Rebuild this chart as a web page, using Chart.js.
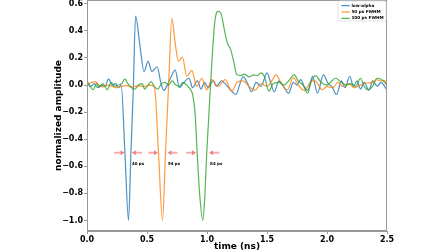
<!DOCTYPE html>
<html>
<head>
<meta charset="utf-8">
<style>
  html, body { margin: 0; padding: 0; background: #fff; }
</style>
<script src="https://cdn.jsdelivr.net/npm/chart.js@4.4.0/dist/chart.umd.min.js"></script>
</head>
<body>
<canvas id="myChart" width="448" height="252"></canvas>
<script>
// time (ns) / amplitude for each trace
const blueTime = [0.00,0.03,0.06,0.09,0.12,0.15,0.18,0.21,0.24,0.26,0.285,0.316,0.346,0.366,0.385,0.405,0.44,0.475,0.51,0.54,0.585,0.615,0.64,0.67,0.70,0.735,0.77,0.80,0.85,0.88,0.92,0.95,0.98,1.01,1.05,1.08,1.12,1.15,1.20,1.24,1.30,1.34,1.37,1.41,1.45,1.50,1.53,1.56,1.60,1.63,1.68,1.72,1.75,1.78,1.81,1.84,1.88,1.92,1.97,2.01,2.04,2.08,2.12,2.15,2.19,2.22,2.25,2.28,2.31,2.35,2.38,2.42,2.45,2.48,2.50];
const blueAmp = [0.02,-0.01,0.01,-0.02,0.00,-0.01,0.045,0.00,0.01,-0.02,0.00,-0.5,-1.0,-0.5,-0.05,0.51,0.30,0.10,0.175,0.10,0.135,0.02,-0.04,0.00,0.06,0.11,-0.02,0.01,0.05,-0.02,0.03,-0.03,0.02,-0.02,0.03,-0.01,0.03,0.01,-0.04,-0.07,0.06,0.01,-0.05,0.02,-0.01,0.09,0.02,-0.05,0.03,0.00,-0.06,0.02,0.00,0.04,-0.01,-0.04,0.065,-0.06,0.075,0.01,-0.01,-0.07,0.03,-0.02,0.065,-0.01,0.03,-0.03,0.02,-0.04,0.03,-0.01,0.02,-0.01,-0.04];

const orangeTime = [0.00,0.04,0.07,0.10,0.13,0.17,0.21,0.25,0.29,0.33,0.38,0.43,0.48,0.52,0.55,0.565,0.596,0.629,0.654,0.68,0.707,0.735,0.762,0.795,0.832,0.873,0.915,0.957,0.998,1.04,1.095,1.15,1.206,1.25,1.30,1.35,1.40,1.45,1.50,1.54,1.575,1.62,1.67,1.72,1.76,1.81,1.86,1.90,1.96,2.00,2.05,2.09,2.13,2.18,2.23,2.28,2.33,2.38,2.415,2.45,2.48,2.50];
const orangeAmp = [0.00,0.02,0.025,0.00,-0.015,0.00,-0.01,-0.02,-0.01,-0.005,-0.015,-0.005,-0.01,0.00,-0.005,-0.03,-0.5,-1.0,-0.5,0.00,0.495,0.31,0.175,0.207,0.064,0.108,-0.01,0.05,-0.035,0.04,-0.01,0.04,-0.047,0.02,0.03,-0.01,-0.04,0.01,-0.01,0.03,0.075,0.01,-0.035,0.055,0.00,-0.04,0.02,0.03,-0.035,-0.01,-0.02,0.02,-0.01,0.01,-0.02,0.00,0.015,0.02,0.04,0.03,0.035,-0.02];

const greenTime = [0.00,0.025,0.05,0.08,0.10,0.13,0.17,0.20,0.23,0.26,0.29,0.315,0.34,0.37,0.40,0.43,0.46,0.48,0.51,0.535,0.56,0.59,0.62,0.65,0.68,0.71,0.74,0.77,0.80,0.83,0.86,0.88,0.90,0.918,0.94,0.965,0.98,0.998,1.026,1.067,1.095,1.12,1.142,1.17,1.198,1.225,1.248,1.28,1.31,1.35,1.39,1.42,1.45,1.48,1.516,1.55,1.60,1.64,1.68,1.727,1.76,1.80,1.838,1.87,1.905,1.95,2.00,2.04,2.07,2.12,2.16,2.20,2.24,2.28,2.31,2.34,2.38,2.415,2.45,2.48,2.50];
const greenAmp = [0.03,-0.01,-0.035,0.01,-0.015,0.01,-0.035,0.02,-0.01,0.00,0.01,0.045,0.01,-0.02,-0.03,0.00,0.01,-0.03,0.00,0.025,-0.01,-0.03,0.01,0.02,0.00,0.03,0.00,-0.01,0.02,0.00,-0.03,-0.07,-0.2,-0.5,-0.82,-1.0,-0.85,-0.5,-0.05,0.48,0.545,0.52,0.42,0.31,0.26,0.163,0.077,0.07,0.08,0.06,0.075,0.07,0.09,0.06,-0.046,0.01,0.02,0.00,0.03,0.077,0.03,0.00,-0.06,0.03,0.07,0.02,0.00,0.03,0.05,0.02,0.00,0.01,-0.01,0.05,-0.01,-0.035,-0.01,0.05,0.045,0.02,0.00];

const xTicks = [0.0, 0.5, 1.0, 1.5, 2.0, 2.5];
const yTicks = [-1.0, -0.8, -0.6, -0.4, -0.2, 0.0, 0.2, 0.4, 0.6];

// FWHM arrows at half depth
const arrowTails = [0.227, 0.458, 0.512, 0.754, 0.826, 1.103];
const arrowTips = [0.313, 0.374, 0.591, 0.671, 0.909, 1.017];
const arrowLevel = -0.5;
const widthLabels = ['40 ps', '54 ps', '84 ps'];
const labelTimes = [0.374, 0.674, 1.026];
const labelLevel = -0.585;

const FONT = 'DejaVu Sans';

function pts(t, a) {
  return t.map((x, i) => ({x: x, y: a[i]}));
}
function fmt(v) {
  const s = (Math.abs(v) < 1e-9 ? 0 : v).toFixed(1);
  return s.replace('-', '\u2212');
}

const framePlugin = {
  id: 'frame',
  afterDatasetsDraw(chart) {
    const {ctx, chartArea: a} = chart;
    ctx.save();
    ctx.strokeStyle = '#999';
    ctx.lineWidth = 1;
    ctx.strokeRect(a.left + 0.5, a.top + 0.5, a.right - a.left - 1, a.bottom - a.top - 1);
    ctx.restore();
  }
};

const arrowPlugin = {
  id: 'arrows',
  afterDatasetsDraw(chart) {
    const {ctx} = chart;
    const xs = chart.scales.x, ys = chart.scales.y;
    const y = ys.getPixelForValue(arrowLevel);
    ctx.save();
    arrowTails.forEach((t, i) => {
      const x1 = xs.getPixelForValue(t);
      const x2 = xs.getPixelForValue(arrowTips[i]);
      const dir = x2 > x1 ? 1 : -1;
      const head = 4;
      ctx.strokeStyle = 'rgba(235,70,70,0.45)';
      ctx.lineWidth = 2;
      ctx.beginPath();
      ctx.moveTo(x1, y);
      ctx.lineTo(x2 - dir * head, y);
      ctx.stroke();
      ctx.fillStyle = 'rgba(230,60,60,0.65)';
      ctx.beginPath();
      ctx.moveTo(x2, y);
      ctx.lineTo(x2 - dir * head, y - 2.5);
      ctx.lineTo(x2 - dir * head, y + 2.5);
      ctx.closePath();
      ctx.fill();
    });
    ctx.fillStyle = '#000';
    ctx.font = 'bold 4px ' + FONT;
    ctx.textBaseline = 'middle';
    ctx.textAlign = 'left';
    widthLabels.forEach((txt, i) => {
      ctx.fillText(txt, xs.getPixelForValue(labelTimes[i]), ys.getPixelForValue(labelLevel));
    });
    ctx.restore();
  }
};

const legendPlugin = {
  id: 'insideLegend',
  afterDraw(chart) {
    const {ctx, chartArea: a} = chart;
    const w = 48, h = 20;
    const x0 = a.right - w - 1, y0 = a.top + 1;
    ctx.save();
    ctx.fillStyle = 'rgba(255,255,255,0.85)';
    ctx.strokeStyle = '#ddd';
    ctx.lineWidth = 0.8;
    ctx.beginPath();
    ctx.roundRect(x0, y0, w, h, 1.5);
    ctx.fill();
    ctx.stroke();
    ctx.font = 'bold 4.2px ' + FONT;
    ctx.textBaseline = 'middle';
    chart.data.datasets.forEach((ds, i) => {
      const yy = y0 + 4.6 + i * 6.4;
      ctx.strokeStyle = ds.borderColor;
      ctx.lineWidth = 1.3;
      ctx.beginPath();
      ctx.moveTo(x0 + 3.4, yy);
      ctx.lineTo(x0 + 11.7, yy);
      ctx.stroke();
      ctx.fillStyle = '#000';
      ctx.fillText(ds.label, x0 + 13.4, yy);
    });
    ctx.restore();
  }
};

const ctx = document.getElementById('myChart').getContext('2d');
new Chart(ctx, {
  type: 'line',
  data: {
    datasets: [
      { label: 'low-alpha', data: pts(blueTime, blueAmp), borderColor: 'rgba(31,119,180,0.8)', order: 2 },
      { label: '50 ps FWHM', data: pts(orangeTime, orangeAmp), borderColor: 'rgba(255,127,14,0.8)', order: 1 },
      { label: '100 ps FWHM', data: pts(greenTime, greenAmp), borderColor: 'rgba(44,160,44,0.8)', order: 0 }
    ]
  },
  options: {
    responsive: false,
    animation: false,
    layout: { padding: { left: 53, right: 61, top: 0, bottom: 0 } },
    elements: {
      point: { radius: 0 },
      line: { borderWidth: 1.2, fill: false, cubicInterpolationMode: 'monotone' }
    },
    plugins: {
      legend: { display: false },
      tooltip: { enabled: false }
    },
    scales: {
      x: {
        type: 'linear',
        min: 0,
        max: 2.5,
        afterBuildTicks: s => { s.ticks = xTicks.map(v => ({value: v})); },
        afterFit: s => { s.height = 21; s.paddingLeft = 0; s.paddingRight = 0; },
        grid: { display: true, drawOnChartArea: false, drawTicks: true, tickLength: 3, color: '#999' },
        border: { display: true, color: '#999' },
        ticks: {
          padding: 1, color: '#000', maxRotation: 0, autoSkip: false,
          font: { family: FONT, size: 8, weight: 'bold' },
          callback: v => fmt(v)
        },
        title: {
          display: true, text: 'time (ns)', color: '#000', padding: 0,
          font: { family: FONT, size: 9, weight: 'bold' }
        }
      },
      y: {
        type: 'linear',
        min: -1.078,
        max: 0.628,
        afterBuildTicks: s => { s.ticks = yTicks.map(v => ({value: v})); },
        afterFit: s => { s.width = 34; s.paddingTop = 0; s.paddingBottom = 0; },
        grid: { display: true, drawOnChartArea: false, drawTicks: true, tickLength: 3, color: '#999' },
        border: { display: true, color: '#999' },
        ticks: {
          padding: 1, color: '#000', autoSkip: false,
          font: { family: FONT, size: 8, weight: 'bold' },
          callback: v => fmt(v)
        },
        title: {
          display: true, text: 'normalized amplitude', color: '#000', padding: 0,
          font: { family: FONT, size: 9, weight: 'bold' }
        }
      }
    }
  },
  plugins: [framePlugin, arrowPlugin, legendPlugin]
});
</script>
</body>
</html>
